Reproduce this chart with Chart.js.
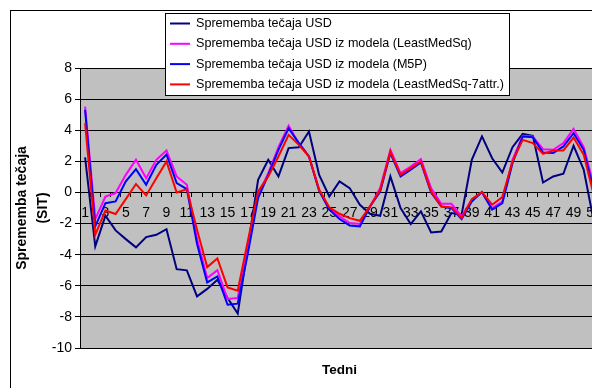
<!DOCTYPE html>
<html>
<head>
<meta charset="utf-8">
<script src="https://cdn.jsdelivr.net/npm/chart.js@4/dist/chart.umd.min.js"></script>
<style>
  html, body { margin: 0; padding: 0; background: #fff; overflow: hidden; }
  canvas { display: block; }
</style>
</head>
<body>
<canvas id="c" width="610" height="388"></canvas>
<script>
// Weeks on the category axis
const weeks = [1,2,3,4,5,6,7,8,9,10,11,12,13,14,15,16,17,18,19,20,21,22,23,24,25,26,
  27,28,29,30,31,32,33,34,35,36,37,38,39,40,41,42,43,44,45,46,47,48,49,50,51];

// Actual weekly change of the USD rate
const usdActual = [2.25,-3.47,-1.5,-2.44,-3.0,-3.53,-2.87,-2.72,-2.36,-4.93,-5.01,-6.68,-6.2,-5.61,
  -6.79,-7.79,-3.5,0.81,2.1,1.03,2.85,2.91,3.92,1.13,-0.26,0.71,0.28,-0.79,-1.37,-1.5,1.03,-1.01,
  -2.03,-1.22,-2.57,-2.51,-1.33,-1.43,2.1,3.6,2.2,1.28,2.91,3.77,3.64,0.64,1.03,1.2,3.0,1.46,-1.9];

// Model: LeastMedSq
const usdLeastMedSq = [5.52,-1.71,-0.26,-0.04,1.13,2.1,0.92,2.1,2.7,1.03,0.49,-3.0,-5.5,-5.0,
  -6.85,-6.79,-3.5,-0.15,1.24,2.91,4.3,3.17,2.31,0.17,-1.05,-1.54,-1.97,-2.03,-0.9,0.28,2.74,1.24,
  1.67,2.14,0.28,-0.73,-0.73,-1.54,-0.47,0.02,-1.0,-0.58,2.1,3.64,3.6,2.78,2.74,3.17,4.09,2.91,0.4];

// Model: M5P
const usdM5P = [5.31,-2.18,-0.69,-0.58,0.71,1.5,0.49,1.78,2.44,0.6,0.21,-3.3,-5.78,-5.4,
  -7.22,-7.15,-3.9,-0.36,1.13,2.74,4.13,3.17,2.31,0.1,-1.1,-1.71,-2.12,-2.18,-0.9,0.06,2.53,1.03,
  1.46,1.93,0.0,-0.9,-1.01,-1.71,-0.58,0.02,-1.11,-0.69,1.88,3.6,3.55,2.57,2.53,2.96,3.81,2.74,0.1];

// Model: LeastMedSq with 7 attributes
const usdLeastMedSq7 = [4.45,-2.72,-1.16,-1.39,-0.43,0.54,-0.19,0.92,1.99,0.0,0.21,-2.4,-4.8,-4.24,
  -6.1,-6.32,-3.1,0.06,1.03,2.31,3.7,3.06,2.31,0.17,-0.95,-1.37,-1.65,-1.82,-0.9,0.17,2.63,1.13,
  1.56,1.99,0.06,-0.9,-0.96,-1.65,-0.43,0.02,-0.79,-0.3,1.99,3.38,3.17,2.48,2.7,2.7,3.53,2.42,-0.2];

const seriesNames = [
  'Sprememba tečaja USD',
  'Sprememba tečaja USD iz modela (LeastMedSq)',
  'Sprememba tečaja USD iz modela (M5P)',
  'Sprememba tečaja USD iz modela (LeastMedSq-7attr.)'
];
const seriesColors = ['#000080', '#ff00ff', '#0000ff', '#ff0000'];

const yTicks = [-10, -8, -6, -4, -2, 0, 2, 4, 6, 8];

Chart.defaults.font.family = "'Liberation Sans', Arial, sans-serif";
Chart.defaults.color = '#000';

// Page frame, grey plot area and the boxed legend
const framePlugin = {
  id: 'frame',
  beforeDraw(chart) {
    const { ctx, chartArea: a } = chart;
    ctx.save();
    ctx.fillStyle = '#fff';
    ctx.fillRect(0, 0, chart.width, chart.height);
    ctx.strokeStyle = '#000';
    ctx.lineWidth = 1;
    ctx.strokeRect(10.5, 10.5, chart.width + 20, chart.height + 20);
    ctx.fillStyle = '#c0c0c0';
    ctx.fillRect(a.left, a.top, a.right - a.left, a.bottom - a.top);
    ctx.restore();
  },
  afterDraw(chart) {
    const { ctx } = chart;
    const bx = 165.5, by = 13.5, bw = 344, bh = 82;
    ctx.save();
    ctx.fillStyle = '#fff';
    ctx.fillRect(bx, by, bw, bh);
    ctx.strokeStyle = '#000';
    ctx.lineWidth = 1;
    ctx.strokeRect(bx, by, bw, bh);
    ctx.font = "12.6px 'Liberation Sans', Arial, sans-serif";
    ctx.textBaseline = 'middle';
    ctx.textAlign = 'left';
    chart.data.datasets.forEach((ds, i) => {
      const y = 23.5 + i * 20.3;
      ctx.strokeStyle = ds.borderColor;
      ctx.lineWidth = 2;
      ctx.beginPath();
      ctx.moveTo(170, y);
      ctx.lineTo(190, y);
      ctx.stroke();
      ctx.fillStyle = '#000';
      ctx.fillText(ds.label, 196, y);
    });
    ctx.restore();
  }
};

const series = [usdActual, usdLeastMedSq, usdM5P, usdLeastMedSq7];
const drawOrder = [3, 2, 1, 0];

new Chart(document.getElementById('c'), {
  type: 'line',
  data: {
    labels: weeks,
    datasets: series.map((vals, i) => ({
      label: seriesNames[i],
      data: vals,
      borderColor: seriesColors[i],
      backgroundColor: seriesColors[i],
      borderWidth: 2,
      pointRadius: 0,
      tension: 0,
      fill: false,
      order: drawOrder[i]
    }))
  },
  options: {
    responsive: false,
    animation: false,
    events: [],
    layout: { padding: { top: 68, right: 11, bottom: 0, left: 0 } },
    plugins: { legend: { display: false }, tooltip: { enabled: false } },
    scales: {
      x: {
        type: 'category',
        position: { y: 0 },
        offset: true,
        grid: { offset: true, drawOnChartArea: false, drawTicks: true, tickLength: 4, color: '#000' },
        border: { color: '#000', width: 1 },
        ticks: {
          autoSkip: false, maxRotation: 0, minRotation: 0, padding: 8,
          font: { size: 14 }, color: '#000',
          callback: (v, i) => (i % 2 === 0 ? String(weeks[i]) : '')
        }
      },
      x2: {
        type: 'category',
        position: 'bottom',
        grid: { display: false },
        border: { display: false },
        ticks: { display: false },
        title: {
          display: true, text: 'Tedni', color: '#000',
          font: { size: 13.5, weight: 'bold' },
          padding: { top: 0, bottom: 10 }
        },
        afterFit(s) { s.height = 40; }
      },
      y: {
        min: -10, max: 8,
        afterBuildTicks(s) { s.ticks = yTicks.map(v => ({ value: v })); },
        ticks: { font: { size: 14 }, color: '#000', padding: 3 },
        grid: { color: '#000', tickLength: 5 },
        border: { color: '#000' },
        title: {
          display: true, text: ['Sprememba tečaja', '(SIT)'], color: '#000',
          font: { size: 14, weight: 'bold', lineHeight: 1.5 },
          padding: { top: 12, bottom: 0 }
        },
        afterFit(s) { s.width = 80; }
      }
    }
  },
  plugins: [framePlugin]
});
</script>
</body>
</html>
